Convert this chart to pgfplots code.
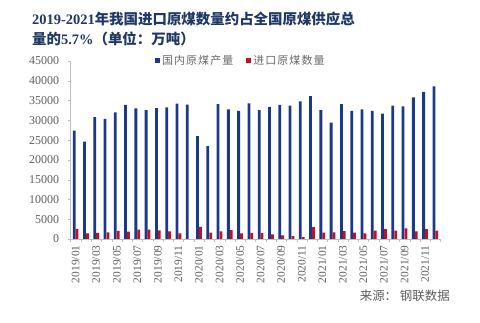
\documentclass[border=0pt]{standalone}
\usepackage{fontspec}
\setmainfont{Liberation Serif}
\newfontfamily\cjk{Noto Sans CJK SC}
\newfontfamily\cjkleg{Noto Sans CJK SC}[LetterSpace=10]
\usepackage{pgfplots}
\pgfplotsset{compat=1.18}
\definecolor{barblue}{RGB}{28,56,136}
\definecolor{barred}{RGB}{192,18,32}
\definecolor{titleblue}{RGB}{31,56,100}
\definecolor{txtgray}{RGB}{95,95,95}
\definecolor{leggray}{RGB}{105,105,105}
\definecolor{axgray}{RGB}{191,191,191}
\begin{document}
\begin{tikzpicture}
\path[use as bounding box] (0,0) rectangle (480bp,323bp);
\begin{axis}[
  at={(70.5bp,84bp)}, anchor=south west,
  scale only axis, width=370bp, height=178bp,
  ybar, bar width=2.8bp,
  xmin=-0.5, xmax=35.5, ymin=0, ymax=45000,
  axis x line=bottom, axis y line=left,
  axis line style={draw=axgray, -},
  xtick={0,2,...,34},
  xticklabels={2019/01,2019/03,2019/05,2019/07,2019/09,2019/11,2020/01,2020/03,2020/05,2020/07,2020/09,2020/11,2021/01,2021/03,2021/05,2021/07,2021/09,2021/11},
  minor xtick={-0.5,0.5,...,35.5},
  major x tick style={draw=none},
  minor x tick style={draw=axgray},
  ytick={0,5000,...,45000},
  y tick style={draw=axgray},
  tick align=outside,
  major tick length=3bp, minor tick length=3bp,
  scaled y ticks=false,
  /pgf/number format/assume math mode=true,
  yticklabel style={font=\fontsize{12}{12}\selectfont, text=txtgray, /pgf/number format/fixed, /pgf/number format/1000 sep={}, xshift=-5bp},
  xticklabel style={rotate=90, anchor=east, font=\fontsize{11.5}{12}\selectfont, text=txtgray},
  legend style={at={(0.22,1)}, anchor=west, draw=none, fill=none, legend columns=2,
    font=\cjkleg\fontsize{11}{12}\selectfont, text=leggray,
    /tikz/every even column/.append style={column sep=11bp}},
  legend image code/.code={\fill[#1] (0bp,-2.5bp) rectangle (5bp,2.5bp);},
  clip=false,
]
\addplot[fill=barblue, draw=none, bar shift=-1.45bp] coordinates {
(0,27400) (1,24600) (2,30800) (3,30400) (4,32000) (5,33900) (6,33000) (7,32600) (8,33100) (9,33300) (10,34200) (11,34000)
(12,26000) (13,23500) (14,34100) (15,32800) (16,32400) (17,34300) (18,32600) (19,33400) (20,33900) (21,33700) (22,34800) (23,36100)
(24,32600) (25,29400) (26,34100) (27,32400) (28,32800) (29,32400) (30,31700) (31,33700) (32,33500) (33,35800) (34,37200) (35,38600)
};
\addlegendentry{国内原煤产量}
\addplot[fill=barred, draw=none, bar shift=1.45bp] coordinates {
(0,2550) (1,1450) (2,1550) (3,1700) (4,2050) (5,1850) (6,2350) (7,2350) (8,2150) (9,1900) (10,1400)
(12,3050) (13,1600) (14,1900) (15,2250) (16,1450) (17,1550) (18,1550) (19,1200) (20,900) (21,700) (22,500) (23,3000)
(24,1600) (25,1700) (26,2000) (27,1600) (28,1400) (29,2100) (30,2500) (31,2100) (32,2700) (33,1900) (34,2500) (35,2100)
};
\addlegendentry{进口原煤数量}
\end{axis}
\node[anchor=west, inner sep=0pt, text=titleblue, font=\fontsize{14.5}{15}\selectfont\bfseries] at (32bp,304bp) {2019-2021{\cjk 年我国进口原煤数量约占全国原煤供应总}};
\node[anchor=west, inner sep=0pt, text=titleblue, font=\fontsize{14.5}{15}\selectfont\bfseries] at (32bp,284.5bp) {{\cjk 量的}5.7\%{\cjk （单位：万吨）}};
\node[anchor=east, inner sep=0pt, text=txtgray, font=\cjk\fontsize{12.5}{13}\selectfont] at (450bp,27bp) {来源： 钢联数据};
\end{tikzpicture}
\end{document}
